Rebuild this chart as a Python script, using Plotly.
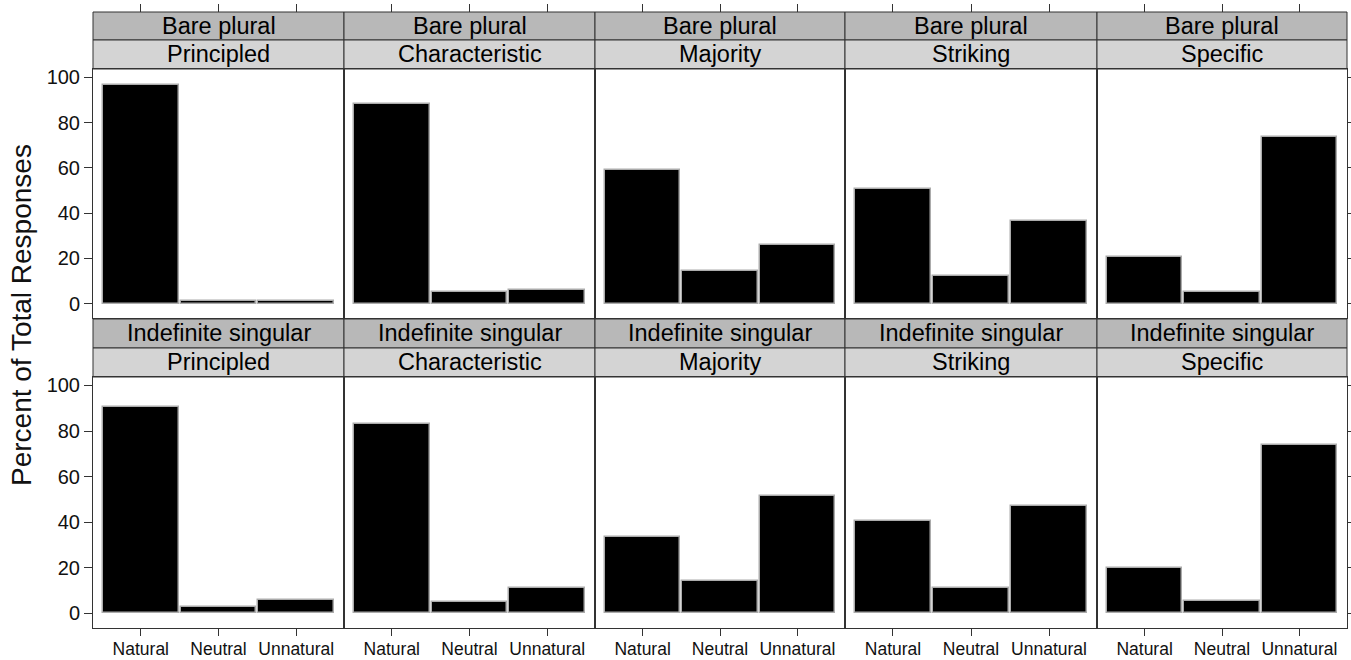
import plotly.graph_objects as go

# ---------------- data ----------------
categories = ["Natural", "Neutral", "Unnatural"]
contexts = ["Principled", "Characteristic", "Majority", "Striking", "Specific"]
np_types = ["Bare plural", "Indefinite singular"]

bp_principled = [96.6, 1.3, 1.3]
bp_characteristic = [88.4, 5.1, 6.2]
bp_majority = [59.0, 14.2, 25.7]
bp_striking = [50.7, 12.0, 36.7]
bp_specific = [20.6, 5.1, 73.7]

is_principled = [90.4, 2.6, 5.7]
is_characteristic = [83.3, 4.8, 11.0]
is_majority = [33.7, 14.3, 51.3]
is_striking = [40.5, 11.0, 47.3]
is_specific = [19.8, 5.5, 73.7]

y_ticks = [0, 20, 40, 60, 80, 100]
y_title = "Percent of Total Responses"

rows_values = [
    [bp_principled, bp_characteristic, bp_majority, bp_striking, bp_specific],
    [is_principled, is_characteristic, is_majority, is_striking, is_specific],
]

# ---------------- layout geometry (window pixels) ----------------
W, H = 1351, 660
col_edges = [93, 344, 595, 845, 1097, 1347]
# row: (dark strip top, light strip top, plot top, plot bottom)
row_geom = [(12, 40, 69, 318), (319, 348, 377, 628)]

def px_x(p):
    return p / W

def px_y(p):
    return 1 - p / H

FONT = "Liberation Sans, Arial, Helvetica, sans-serif"
LINE = "#333333"
DARK_STRIP = "#b8b8b8"
LIGHT_STRIP = "#d4d4d4"
x_range = [0.385, 3.615]
y_range = [-6.4, 103.7]
x_pos = [1, 2, 3]

fig = go.Figure()
layout = dict(
    width=W, height=H,
    margin=dict(l=0, r=0, t=0, b=0),
    paper_bgcolor="white", plot_bgcolor="white",
    showlegend=False,
    font=dict(family=FONT, color="#111111"),
    bargap=0,
)
shapes = []
annotations = []

idx = 0
for r in range(2):
    dark_top, light_top, plot_top, plot_bot = row_geom[r]
    for c in range(5):
        idx += 1
        xa = "x" if idx == 1 else f"x{idx}"
        ya = "y" if idx == 1 else f"y{idx}"
        xkey = "xaxis" if idx == 1 else f"xaxis{idx}"
        ykey = "yaxis" if idx == 1 else f"yaxis{idx}"
        vals = rows_values[r][c]
        fig.add_trace(go.Bar(
            x=x_pos, y=vals, width=0.975,
            marker=dict(color="black", line=dict(color="#ababab", width=1.5)),
            xaxis=xa, yaxis=ya, hoverinfo="y",
        ))
        x0, x1 = col_edges[c], col_edges[c + 1]
        bottom_row = (r == 1)
        layout[xkey] = dict(
            domain=[px_x(x0), px_x(x1)], anchor=ya, range=x_range,
            tickvals=x_pos, ticktext=categories,
            showticklabels=bottom_row, ticks="outside" if bottom_row else "",
            ticklen=7, tickcolor=LINE, tickwidth=1, ticklabelstandoff=-2,
            tickfont=dict(size=17.5, family=FONT, color="#111111"),
            showline=True, mirror=True, linecolor=LINE, linewidth=1,
            showgrid=False, zeroline=False, fixedrange=True, automargin=False,
        )
        left_col = (c == 0)
        right_col = (c == 4)
        layout[ykey] = dict(
            domain=[px_y(plot_bot), px_y(plot_top)], anchor=xa, range=y_range,
            tickvals=y_ticks, side="right" if right_col else "left",
            showticklabels=left_col,
            ticks="outside" if (left_col or right_col) else "",
            ticklen=8, tickcolor=LINE, tickwidth=1,
            tickfont=dict(size=20, family=FONT, color="#111111"),
            showline=True, mirror=True, linecolor=LINE, linewidth=1,
            showgrid=False, zeroline=False, fixedrange=True, automargin=False,
        )
        # strips
        strips = [(dark_top, light_top, DARK_STRIP, np_types[r]),
                  (light_top, plot_top, LIGHT_STRIP, contexts[c])]
        for (s0, s1, col, txt) in strips:
            shapes.append(dict(type="rect", xref="paper", yref="paper",
                               x0=px_x(x0), x1=px_x(x1), y0=px_y(s1), y1=px_y(s0),
                               fillcolor=col, line=dict(color=LINE, width=1),
                               layer="below"))
            annotations.append(dict(xref="paper", yref="paper",
                                    x=px_x((x0 + x1) / 2), y=px_y((s0 + s1) / 2),
                                    text=txt, showarrow=False,
                                    xanchor="center", yanchor="middle",
                                    font=dict(size=23.5, family=FONT, color="black")))

# top ticks above the strips on the first row (overlay axes)
for c in range(5):
    base = c + 1
    oid = 10 + base
    xa_base = "x" if base == 1 else f"x{base}"
    ya_base = "y" if base == 1 else f"y{base}"
    fig.add_trace(go.Scatter(x=[None], y=[None], xaxis=f"x{oid}", yaxis=ya_base,
                             showlegend=False, hoverinfo="skip"))
    layout[f"xaxis{oid}"] = dict(
        overlaying=xa_base, anchor="free", position=px_y(row_geom[0][0]),
        side="top", range=x_range, tickvals=x_pos, showticklabels=False,
        ticks="outside", ticklen=8, tickcolor=LINE, tickwidth=1,
        showline=False, showgrid=False, zeroline=False, fixedrange=True,
    )

annotations.append(dict(xref="paper", yref="paper", x=px_x(21), y=px_y(315),
                        text=y_title, textangle=-90, showarrow=False,
                        xanchor="center", yanchor="middle",
                        font=dict(size=28, family=FONT, color="#111111")))

layout["shapes"] = shapes
layout["annotations"] = annotations
fig.update_layout(**layout)
fig.write_html(
    "out.html",
    config={"displayModeBar": False},
    post_script="document.body.style.margin='0px';document.body.style.overflow='hidden';",
)
